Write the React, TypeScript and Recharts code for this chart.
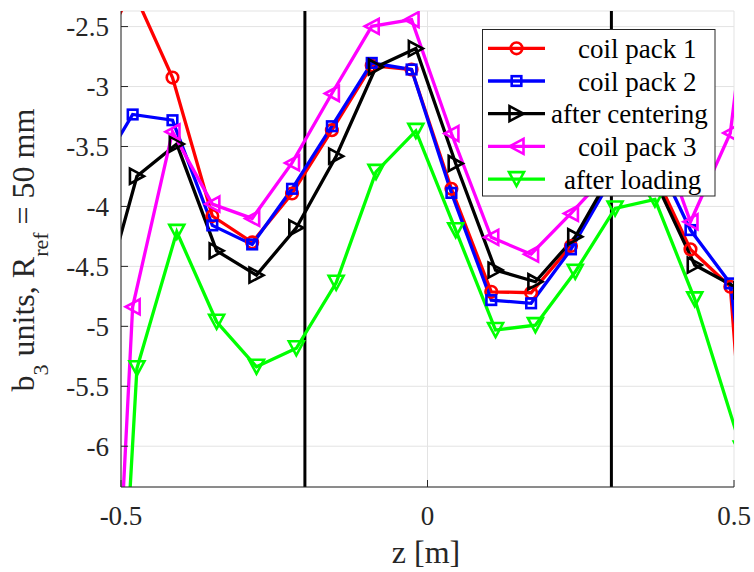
import React from 'react';
import { LineChart, Line, XAxis, YAxis, CartesianGrid, ReferenceLine, Legend } from 'recharts';

// z positions [m]; the two groups are sampled at slightly shifted positions
const Z_A = [-0.546, -0.481, -0.416, -0.351, -0.286, -0.221, -0.156, -0.091, -0.026, 0.039, 0.104, 0.169, 0.234, 0.299, 0.364, 0.429, 0.494, 0.559];
const Z_B = [-0.539, -0.474, -0.409, -0.344, -0.279, -0.214, -0.149, -0.084, -0.019, 0.046, 0.111, 0.176, 0.241, 0.306, 0.371, 0.436, 0.512];

// b3 values per series
const COIL_PACK_1 = [-2.82, -2.19, -2.925, -4.08, -4.3, -3.892, -3.364, -2.825, -2.858, -3.853, -4.712, -4.72, -4.33, -3.75, -3.65, -4.358, -4.67, -9.0];
const COIL_PACK_2 = [-3.79, -3.233, -3.281, -4.158, -4.317, -3.853, -3.331, -2.803, -2.858, -3.887, -4.781, -4.808, -4.358, -3.78, -3.5, -4.197, -4.642, -7.2];
const AFTER_CENTERING = [-4.955, -3.748, -3.48, -4.37, -4.573, -4.178, -3.581, -2.837, -2.683, -3.642, -4.531, -4.628, -4.253, -3.67, -3.78, -4.489, -4.7];
const COIL_PACK_3 = [-11.4, -4.837, -3.378, -3.98, -4.1, -3.637, -3.058, -2.498, -2.442, -3.392, -4.258, -4.398, -4.058, -3.7, -3.2, -4.128, -3.387, -0.7];
const AFTER_LOADING = [-11.2, -5.35, -4.212, -4.962, -5.337, -5.183, -4.637, -3.712, -3.37, -4.198, -5.031, -4.99, -4.545, -4.017, -3.942, -4.775, -6.02];

const X_TICKS = [-0.5, 0, 0.5];
const Y_TICKS = [-6, -5.5, -5, -4.5, -4, -3.5, -3, -2.5];
const MAGNET_ENDS = [-0.2, 0.3];

const FONT = '"Liberation Serif", "Times New Roman", serif';
const INK = '#262626';

const toPoints = (zs: number[], vs: number[]) => zs.map((z, i) => ({ z, v: vs[i] }));

type MarkerKind = 'circle' | 'square' | 'right' | 'left' | 'down';

const SERIES: { name: string; color: string; marker: MarkerKind; data: { z: number; v: number }[]; textX: number }[] = [
  { name: 'coil pack 1', color: '#ff0000', marker: 'circle', data: toPoints(Z_A, COIL_PACK_1), textX: 96 },
  { name: 'coil pack 2', color: '#0000ff', marker: 'square', data: toPoints(Z_A, COIL_PACK_2), textX: 96 },
  { name: 'after centering', color: '#000000', marker: 'right', data: toPoints(Z_B, AFTER_CENTERING), textX: 69 },
  { name: 'coil pack 3', color: '#ff00ff', marker: 'left', data: toPoints(Z_A, COIL_PACK_3), textX: 96 },
  { name: 'after loading', color: '#00ff00', marker: 'down', data: toPoints(Z_B, AFTER_LOADING), textX: 82 },
];

const Marker = ({ kind, cx, cy, color }: { kind: MarkerKind; cx: number; cy: number; color: string }) => {
  const common = { fill: 'none', stroke: color, strokeWidth: 2.6 };
  switch (kind) {
    case 'circle':
      return <circle cx={cx} cy={cy} r={5.8} {...common} />;
    case 'square':
      return <rect x={cx - 4.8} y={cy - 4.8} width={9.6} height={9.6} {...common} />;
    case 'right':
      return <polygon points={`${cx - 7},${cy - 7.5} ${cx + 7},${cy} ${cx - 7},${cy + 7.5}`} {...common} />;
    case 'left':
      return <polygon points={`${cx + 7},${cy - 7.5} ${cx - 7},${cy} ${cx + 7},${cy + 7.5}`} {...common} />;
    default:
      return <polygon points={`${cx - 7.5},${cy - 7} ${cx + 7.5},${cy - 7} ${cx},${cy + 7}`} {...common} />;
  }
};

const YTick = (props: any) => {
  const { x, y, payload } = props;
  return (
    <g>
      <line x1={x} x2={x + 7} y1={y} y2={y} stroke={INK} />
      <text x={x - 12} y={y + 9.5} textAnchor="end" fontSize={27} fontFamily={FONT} fill={INK}>
        {String(payload.value)}
      </text>
    </g>
  );
};

const XTick = (props: any) => {
  const { x, y, payload } = props;
  return (
    <g>
      <line x1={x} x2={x} y1={y} y2={y - 7} stroke={INK} />
      <text x={x} y={y + 38} textAnchor="middle" fontSize={27} fontFamily={FONT} fill={INK}>
        {String(payload.value)}
      </text>
    </g>
  );
};

const YLabel = () => (
  <text transform="rotate(-90 34 250)" x={34} y={250} textAnchor="middle" fontSize={32} fontFamily={FONT} fill={INK}>
    b<tspan dy={14} fontSize={22}>3</tspan>
    <tspan dy={-14}> units, R</tspan>
    <tspan dy={14} fontSize={22}>ref</tspan>
    <tspan dy={-14}> = 50 mm</tspan>
  </text>
);

const XLabel = () => (
  <text x={426} y={563} textAnchor="middle" fontSize={32} fontFamily={FONT} fill={INK}>
    z [m]
  </text>
);

const LegendBox = () => (
  <svg width={234} height={168} style={{ display: 'block' }}>
    <rect x={0.5} y={0.5} width={232.5} height={166.5} fill="#ffffff" stroke={INK} />
    {SERIES.map((s, i) => {
      const cy = 19.3 + i * 32.7;
      return (
        <g key={s.name}>
          <line x1={6} x2={63} y1={cy} y2={cy} stroke={s.color} strokeWidth={3.3} />
          <Marker kind={s.marker} cx={34.5} cy={cy} color={s.color} />
          <text x={s.textX} y={cy + 9.5} fontSize={27} fontFamily={FONT} fill="#000000">
            {s.name}
          </text>
        </g>
      );
    })}
  </svg>
);

export default function App() {
  return (
    <div style={{ position: 'absolute', left: 0, top: 0, width: 754, height: 572, background: '#ffffff' }}>
      <LineChart width={754} height={572} margin={{ top: 11, right: 20, left: 0, bottom: 0 }}>
        <CartesianGrid stroke="#e3e3e3" strokeWidth={1} />
        <XAxis
          type="number"
          dataKey="z"
          domain={[-0.5, 0.5]}
          ticks={X_TICKS}
          interval={0}
          allowDataOverflow
          height={85}
          tickSize={0}
          tickMargin={0}
          tickLine={false}
          axisLine={{ stroke: INK, strokeWidth: 1 }}
          tick={<XTick />}
          label={{ content: () => <XLabel /> }}
        />
        <YAxis
          type="number"
          domain={[-6.34, -2.37]}
          ticks={Y_TICKS}
          interval={0}
          allowDataOverflow
          width={121}
          tickSize={0}
          tickMargin={0}
          tickLine={false}
          axisLine={{ stroke: INK, strokeWidth: 1 }}
          tick={<YTick />}
          label={{ content: () => <YLabel /> }}
        />
        {MAGNET_ENDS.map((z) => (
          <ReferenceLine key={z} x={z} stroke="#000000" strokeWidth={3} />
        ))}
        {SERIES.map((s) => (
          <Line
            key={s.name}
            data={s.data}
            dataKey="v"
            type="linear"
            stroke={s.color}
            strokeWidth={3.3}
            isAnimationActive={false}
            activeDot={false}
            dot={(p: any) =>
              p.cx == null || p.cy == null ? (
                <g key={`${s.name}-${p.index}`} />
              ) : (
                <Marker key={`${s.name}-${p.index}`} kind={s.marker} cx={p.cx} cy={p.cy} color={s.color} />
              )
            }
          />
        ))}
        <Legend
          layout="vertical"
          align="center"
          verticalAlign="middle"
          content={() => <LegendBox />}
          wrapperStyle={{ left: 482, top: 29, width: 234, height: 168, lineHeight: 0 }}
        />
      </LineChart>
    </div>
  );
}
